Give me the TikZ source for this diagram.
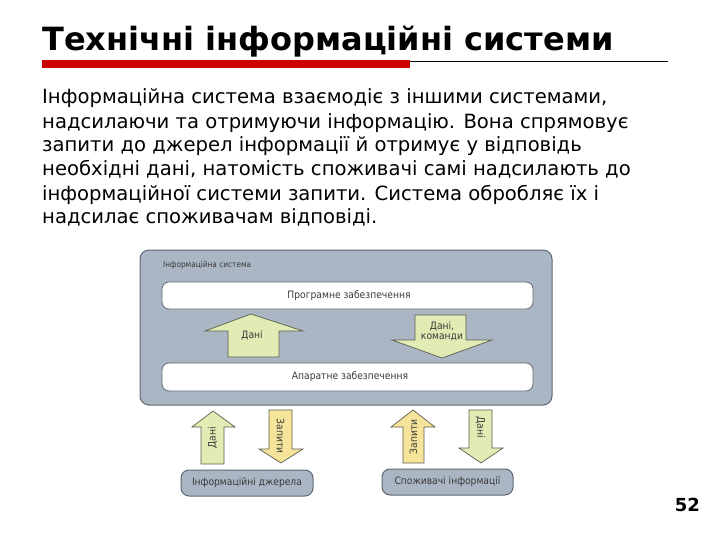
\documentclass[tikz,border=0pt]{standalone}
\usepackage{fontspec}
\setmainfont{DejaVu Sans}
\newfontfamily\diagfont{DejaVu Sans Condensed}
\definecolor{panel}{HTML}{AAB6C4}
\definecolor{panelborder}{HTML}{5E6874}
\definecolor{arrowgreen}{HTML}{E1EBB4}
\definecolor{arrowyellow}{HTML}{F6E49A}
\definecolor{arrowborder}{HTML}{5E5E50}
\definecolor{titlered}{HTML}{CC0000}
\definecolor{labelgray}{HTML}{3A3A3A}
\tikzset{
  panelbox/.style={draw=panelborder, fill=panel, line width=1pt, rounded corners=9pt},
  whitebar/.style={draw=panelborder, fill=white, line width=0.8pt, rounded corners=7pt},
  greenarrow/.style={draw=arrowborder, fill=arrowgreen, line width=0.7pt, line join=miter},
  yellowarrow/.style={draw=arrowborder, fill=arrowyellow, line width=0.7pt, line join=miter},
  dlabel/.style={font=\diagfont\fontsize{10.2}{10}\selectfont, text=labelgray, inner sep=0pt},
  bottombox/.style={panelbox, rounded corners=8pt, minimum height=26pt, inner sep=0pt, font=\diagfont\fontsize{10.2}{12}\selectfont, text=labelgray},
}
\begin{document}
\begin{tikzpicture}[x=1pt,y=-1pt]
\useasboundingbox (0,0) rectangle (720,540);
% title
\node[anchor=base west, inner sep=0pt, font=\bfseries\fontsize{32}{36}\selectfont] (title) at (42,51) {Технічні інформаційні системи};
\fill[titlered] (42,60) rectangle (410,68);
\draw[line width=0.6pt] (410,61) -- (668,61);
% body text (anchor on the last line's baseline)
\node[anchor=base west, inner sep=0pt, align=left, font=\fontsize{19.6}{24}\selectfont] (body) at (42,224) {Інформаційна система взаємодіє з іншими системами,\\
надсилаючи та отримуючи інформацію. Вона спрямовує\\
запити до джерел інформації й отримує у відповідь\\
необхідні дані, натомість споживачі самі надсилають до\\
інформаційної системи запити. Система обробляє їх і\\
надсилає споживачам відповіді.};
% page number
\node[anchor=base east, inner sep=0pt, font=\bfseries\fontsize{18}{20}\selectfont] (page) at (700,511) {52};
% diagram panel
\draw[panelbox] (140,250) rectangle (552,405);
\node[dlabel, anchor=west, font=\diagfont\fontsize{8.2}{10}\selectfont] (islabel) at (163,265) {Інформаційна система};
\draw[whitebar] (162,282) rectangle (533,309);
\node[dlabel] (soft) at (349,295.5) {Програмне забезпечення};
\draw[whitebar] (162,363) rectangle (533,391);
\node[dlabel] (hard) at (350,377) {Апаратне забезпечення};
% internal arrows
\draw[greenarrow] (228,357) -- (228,331) -- (205,331) -- (251,314) -- (303,331) -- (279,331) -- (279,357) -- cycle;
\node[dlabel] (a1) at (252,335) {Дані};
\draw[greenarrow] (415,315) -- (466,315) -- (466,340) -- (492,340) -- (442,358) -- (392,340) -- (415,340) -- cycle;
\node[dlabel, align=center] (a2) at (442,331.5) {Дані,\\команди};
% external arrows
\draw[greenarrow] (201,464) -- (201,427) -- (192,427) -- (213,411) -- (235,427) -- (224,427) -- (224,464) -- cycle;
\node[dlabel, rotate=90] (e1) at (212.5,438) {Дані};
\draw[yellowarrow] (269,410) -- (292,410) -- (292,449) -- (303,449) -- (281,463) -- (259,449) -- (269,449) -- cycle;
\node[dlabel, rotate=-90] (e2) at (280.5,436) {Запити};
\draw[yellowarrow] (403,463) -- (403,427) -- (391,427) -- (413,410) -- (435,427) -- (424,427) -- (424,463) -- cycle;
\node[dlabel, rotate=90] (e3) at (413.5,437) {Запити};
\draw[greenarrow] (469,410) -- (492,410) -- (492,448) -- (503,448) -- (481,463) -- (459,448) -- (469,448) -- cycle;
\node[dlabel, rotate=-90] (e4) at (480.5,427) {Дані};
% bottom boxes
\node[bottombox, minimum width=132pt] (src) at (247,483) {Інформаційні джерела};
\node[bottombox, minimum width=131pt] (cons) at (447.5,482) {Споживачі інформації};
\end{tikzpicture}
\end{document}
